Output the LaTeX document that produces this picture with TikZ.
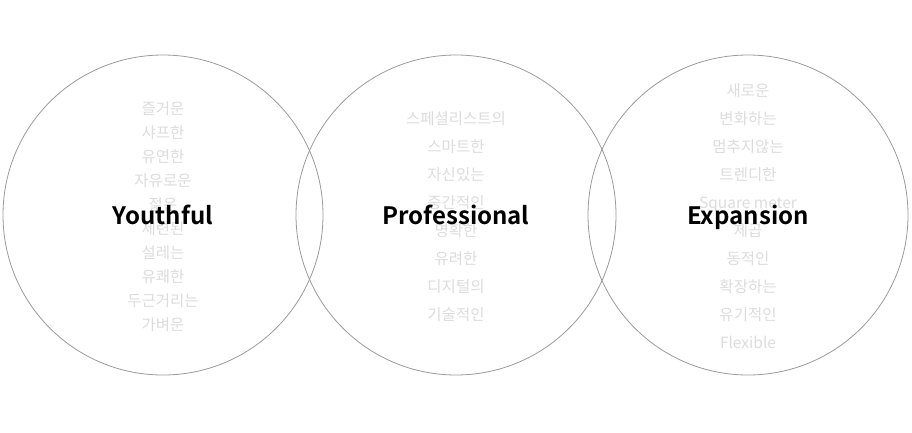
\documentclass[tikz,border=0pt]{standalone}
\usepackage{fontspec}
\setmainfont{Noto Sans CJK KR}[BoldFont={Noto Sans CJK KR Bold}]
\definecolor{ringc}{HTML}{9A9A9A}
\definecolor{wordc}{HTML}{DCDCDC}
\begin{document}
\begin{tikzpicture}[x=1pt,y=-1pt,
  ring/.style={draw=ringc,line width=0.8pt,circle,minimum size=320pt,inner sep=0pt},
  word/.style={text=wordc,font=\fontsize{15.5}{17}\selectfont,inner sep=0pt,anchor=base},
  title/.style={text=black,font=\fontsize{24}{26}\selectfont\bfseries,inner sep=0pt,anchor=base}]
\useasboundingbox (0,0) rectangle (912,432);
\node[ring] (c1) at (163,215) {};
\node[ring] (c2) at (456,215) {};
\node[ring] (c3) at (748,215) {};
% left words
\foreach \w [count=\i] in {즐거운,샤프한,유연한,자유로운,젊은,세련된,설레는,유쾌한,두근거리는,가벼운}
  \node[word] (l\i) at (163,{90+24*\i}) {\w};
% middle words
\foreach \w [count=\i] in {스페셜리스트의,스마트한,자신있는,중간적인,명확한,유려한,디지털의,기술적인}
  \node[word] (m\i) at (456,{96+28*\i}) {\w};
% right words
\foreach \w [count=\i] in {새로운,변화하는,멈추지않는,트렌디한,Square meter,제곱,동적인,확장하는,유기적인,Flexible}
  \node[word] (r\i) at (748,{68+28*\i}) {\w};
\node[title] (t1) at (163,224) {Youthful};
\node[title] (t2) at (456,224) {Professional};
\node[title] (t3) at (748,224) {Expansion};
\end{tikzpicture}
\end{document}
